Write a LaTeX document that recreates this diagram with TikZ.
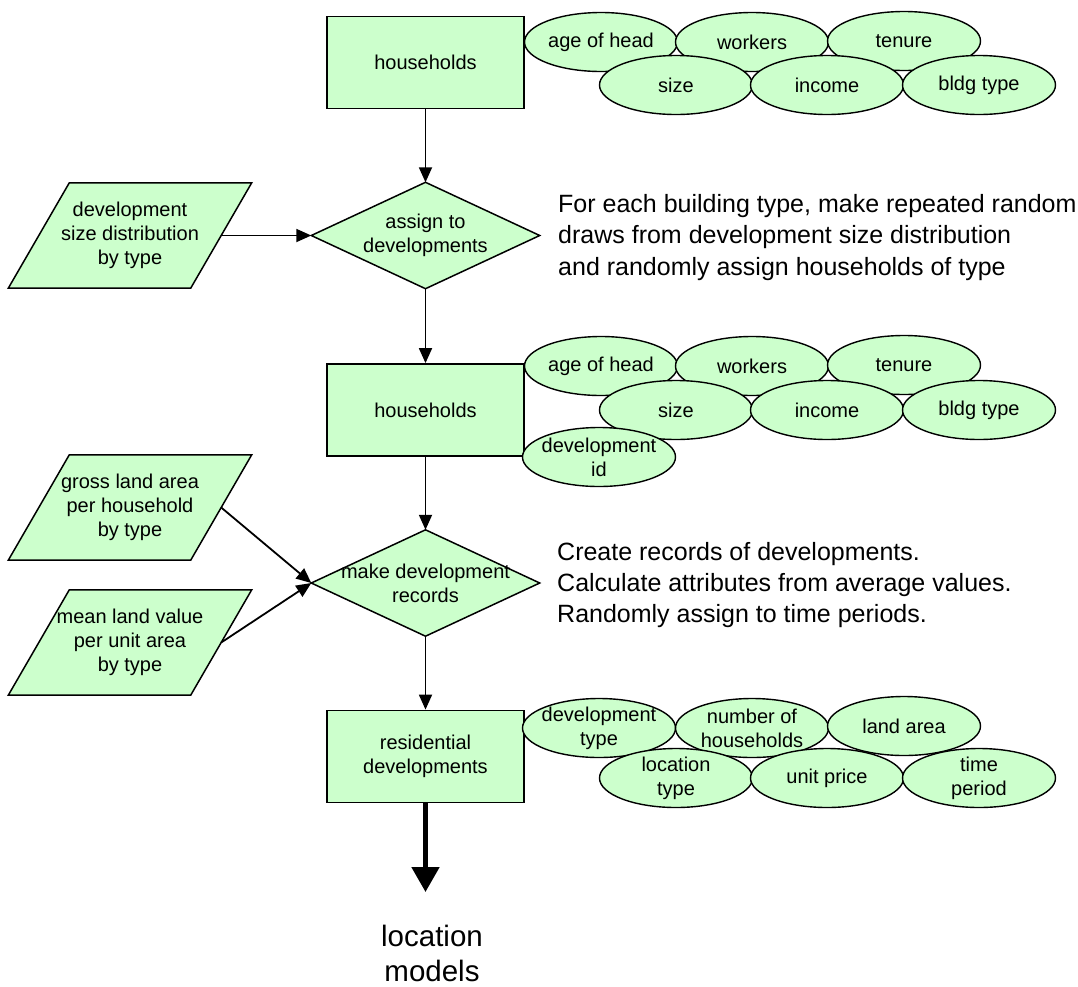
\documentclass[tikz,border=0pt]{standalone}
\usepackage{fontspec}
\setmainfont{Liberation Sans}
\usetikzlibrary{shapes.geometric,arrows.meta,calc}
\pgfdeclarelayer{background}
\pgfsetlayers{background,main}
\definecolor{leaf}{HTML}{CCFFCC}
\newcommand\nodefont{\fontsize{20}{24}\selectfont}
\newcommand\notefont{\fontsize{25}{31.5}\selectfont}
\newcommand\outfont{\fontsize{29.5}{35}\selectfont}

\begin{document}
\begin{tikzpicture}[x=1pt,y=-1pt,
  every node/.style={font=\nodefont, text=black},
  proc/.style={draw=black, line width=1.8pt, fill=leaf, minimum width=197pt, minimum height=92pt, inner sep=0pt, align=center},
  attr/.style={ellipse, draw=black, line width=1.4pt, fill=leaf, minimum width=153pt, minimum height=59pt, inner xsep=-12pt, inner ysep=-8pt, align=center},
  decision/.style={minimum width=228pt, minimum height=106pt, inner sep=0pt, align=center},
  datain/.style={minimum width=182pt, minimum height=105pt, inner sep=0pt, align=center},
  flow/.style={line width=1.8pt, -{Triangle[length=15pt,width=13pt]}},
  outline/.style={draw=black, line width=1.5pt, fill=leaf, line join=miter},
  note/.style={font=\notefont, anchor=base west, inner sep=0pt},
]
\useasboundingbox (0,0) rectangle (1078,986);

% ---------- households table and its attributes
\node[proc] (hh1) at (425.5,62.5) {households};
\node[attr] (a1) at (601,42) {age of head};
\node[attr] (w1) at (752,42) {workers};
\node[attr] (t1) at (904,41) {tenure};
\node[attr] (s1) at (676,85) {size};
\node[attr] (i1) at (827,85) {income};
\node[attr] (b1) at (979,85) {bldg type};

% ---------- assignment step
\node[decision] (assign) at (425.5,235.5) {assign to\\developments};
\node[datain] (dist) at (130,235.5) {development\\size distribution\\by type};
\node[note] (n1a) at (558,212) {For each building type, make repeated random};
\node[note] (n1b) at (558,243.5) {draws from development size distribution};
\node[note] (n1c) at (558,275) {and randomly assign households of type};

% ---------- households with development id
\node[proc] (hh2) at (425.5,410) {households};
\node[attr] (a2) at (601,366) {age of head};
\node[attr] (w2) at (752,366) {workers};
\node[attr] (t2) at (904,365) {tenure};
\node[attr] (s2) at (676,410) {size};
\node[attr] (i2) at (827,410) {income};
\node[attr] (b2) at (979,410) {bldg type};
\node[attr] (d2) at (599,457) {development\\id};

% ---------- development records step
\node[decision] (make) at (425.5,583) {make development\\records};
\node[datain] (gross) at (130,507.5) {gross land area\\per household\\by type};
\node[datain] (mean) at (130,642.5) {mean land value\\per unit area\\by type};
\node[note] (n2a) at (557,560) {Create records of developments.};
\node[note] (n2b) at (557,591) {Calculate attributes from average values.};
\node[note] (n2c) at (557,622) {Randomly assign to time periods.};

% ---------- residential developments table
\node[proc] (res) at (425.5,756.5) {residential\\developments};
\node[attr] (dt) at (599,728) {development\\type};
\node[attr] (nh) at (752,728) {number of\\households};
\node[attr] (la) at (904,726) {land area};
\node[attr] (lt) at (676,778) {location\\type};
\node[attr] (up) at (827,778) {unit price};
\node[attr] (tp) at (979,778) {time\\period};

\node[font=\outfont, align=center] (loc) at (432,953) {location\\models};
\coordinate (out) at (425.5,892);

% ---------- outlines of decisions and inputs
\begin{pgfonlayer}{background}
  \foreach \d in {assign,make}
    \draw[outline] (\d.north) -- (\d.east) -- (\d.south) -- (\d.west) -- cycle;
  \foreach \p in {dist,gross,mean}
    \draw[outline] ($(\p.north west)+(30.5,0)$) -- ($(\p.north east)+(30.5,0)$)
      -- ($(\p.south east)-(30.5,0)$) -- ($(\p.south west)-(30.5,0)$) -- cycle;
\end{pgfonlayer}

% ---------- flow
\draw[flow] (hh1.south) -- (assign.north);
\draw[flow] (dist.east) -- (assign.west);
\draw[flow] (assign.south) -- (hh2.north);
\draw[flow] (hh2.south) -- (make.north);
\draw[flow] (gross.east) -- (make.west);
\draw[flow] (mean.east) -- (make.west);
\draw[flow] (make.south) -- (res.north);
\draw[line width=5pt, -{Triangle[length=25pt,width=27pt]}] (res.south) -- (out);
\end{tikzpicture}
\end{document}
